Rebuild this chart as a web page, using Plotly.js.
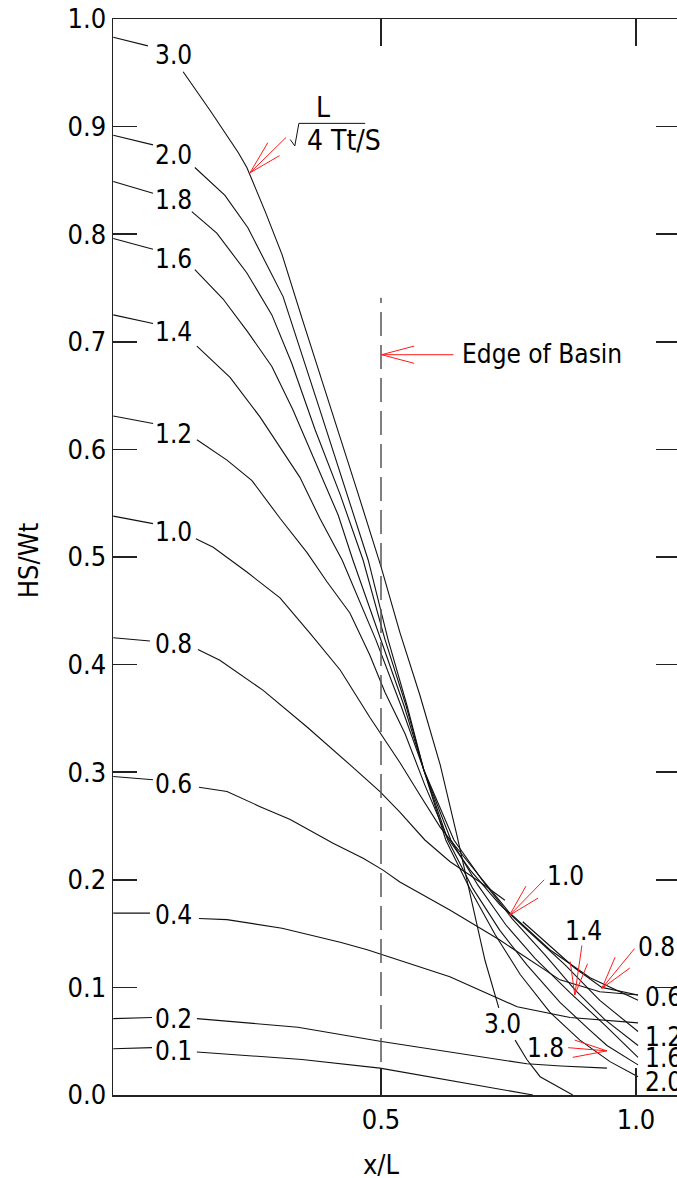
<!DOCTYPE html>
<html>
<head>
<meta charset="utf-8">
<script src="https://cdn.plot.ly/plotly-3.0.1.min.js"></script>
<style>
html,body{margin:0;padding:0;overflow:hidden;background:#fff;}
#chart{width:700px;height:1178px;}
</style>
</head>
<body>
<div id="chart"></div>
<script>
// ---- curve data: x/L and HS/Wt, null marks a break where the label sits ----
const c30x = [-0.025,0.043,null,0.112,0.165,0.220,0.237,0.273,0.306,0.345,0.400,0.451,0.500,0.537,0.576,0.616,0.649,0.678,0.704,0.731,null,0.763,0.786,0.812,0.876];
const c30y = [0.983,0.975,null,0.951,0.915,0.876,0.862,0.821,0.781,0.722,0.641,0.565,0.491,0.430,0.372,0.307,0.241,0.181,0.125,0.081,null,0.051,0.033,0.017,0.000];
const c20x = [-0.025,0.053,null,0.135,0.194,0.239,0.273,0.308,0.380,0.439,0.475,0.514,0.551,0.584,0.627,0.675,0.724,0.773,0.831,0.890,0.949,1.004];
const c20y = [0.892,0.883,null,0.862,0.836,0.806,0.774,0.742,0.637,0.550,0.497,0.423,0.362,0.302,0.237,0.191,0.149,0.112,0.077,0.051,0.031,0.017];
const c18x = [-0.025,0.053,null,0.129,0.178,0.237,0.286,0.325,0.371,0.420,0.465,0.508,0.549,0.584,0.631,0.680,0.733,0.786,0.851,0.910,0.943,1.004];
const c18y = [0.849,0.838,null,0.821,0.801,0.764,0.725,0.680,0.618,0.558,0.497,0.423,0.362,0.302,0.237,0.192,0.153,0.121,0.086,0.060,0.046,0.028];
const c16x = [-0.025,0.053,null,0.135,0.190,0.239,0.286,0.327,0.371,0.416,0.445,0.500,0.545,0.584,0.637,0.690,0.745,0.802,0.871,0.939,1.004];
const c16y = [0.796,0.786,null,0.767,0.740,0.709,0.677,0.637,0.588,0.539,0.497,0.423,0.362,0.302,0.237,0.195,0.158,0.127,0.095,0.065,0.035];
const c14x = [-0.025,0.053,null,0.139,0.204,0.263,0.302,0.341,0.380,0.424,0.490,0.539,0.584,0.643,0.698,0.757,0.822,0.880,0.939,1.004];
const c14y = [0.725,0.717,null,0.696,0.667,0.630,0.602,0.574,0.536,0.497,0.423,0.362,0.302,0.237,0.200,0.164,0.130,0.098,0.070,0.046];
const c12x = [-0.025,0.053,null,0.139,0.198,0.247,0.302,0.355,0.394,0.439,0.478,0.508,0.547,0.586,0.629,0.675,0.733,0.792,0.861,0.929,1.004];
const c12y = [0.631,0.624,null,0.609,0.590,0.571,0.536,0.504,0.477,0.448,0.409,0.374,0.336,0.288,0.240,0.209,0.177,0.151,0.121,0.088,0.059];
const c10x = [-0.025,0.053,null,0.137,0.171,0.237,0.302,0.361,0.420,0.478,0.537,0.576,0.616,0.675,0.751,0.831,0.910,1.004];
const c10y = [0.538,0.531,null,0.517,0.509,0.486,0.462,0.429,0.395,0.351,0.309,0.279,0.249,0.214,0.170,0.135,0.109,0.088];
const c08x = [-0.025,0.047,null,0.141,0.184,0.269,0.355,0.439,0.498,0.537,0.586,0.635,0.694,0.743,null,0.778,0.831,0.880,0.933,1.004];
const c08y = [0.425,0.422,null,0.414,0.404,0.376,0.342,0.307,0.282,0.263,0.237,0.217,0.198,0.181,null,0.161,0.139,0.118,0.100,0.093];
const c06x = [-0.025,0.053,null,0.143,0.198,0.263,0.322,0.406,0.465,0.504,0.537,0.635,0.733,0.851,0.929,1.004];
const c06y = [0.296,0.293,null,0.286,0.282,0.268,0.256,0.234,0.220,0.209,0.198,0.172,0.144,0.107,0.096,0.093];
const c04x = [-0.025,0.047,null,0.143,0.198,0.306,0.420,0.473,0.635,0.767,0.871,1.004];
const c04y = [0.169,0.169,null,0.164,0.163,0.155,0.142,0.135,0.110,0.082,0.072,0.067];
const c02x = [-0.025,0.051,null,0.139,0.337,0.498,0.786,0.853,0.943];
const c02y = [0.071,0.072,null,0.071,0.063,0.050,0.029,0.027,0.025];
const c01x = [-0.025,0.051,null,0.139,0.345,0.498,0.798];
const c01y = [0.043,0.044,null,0.040,0.033,0.025,0.000];

// ---- curve labels (parameter L / sqrt(4Tt/S)) ----
const labelText = ['3.0','2.0','1.8','1.6','1.4','1.2','1.0','0.8','0.6','0.4','0.2','0.1'];
const labelX    = [0.093,0.093,0.093,0.093,0.094,0.094,0.094,0.094,0.094,0.094,0.093,0.093];
const labelY    = [0.967,0.874,0.832,0.777,0.709,0.614,0.523,0.419,0.289,0.167,0.071,0.041];

// labels at the right-hand end of the curves (left anchored)
const endText = ['0.6','1.2','1.6','2.0'];
const endX    = [1.014,1.014,1.014,1.014];
const endY    = [0.091,0.054,0.034,0.012];

// labels with red pointer arrows in lower right
const ptrText = ['1.0','1.4','0.8','3.0','1.8'];
const ptrX    = [0.861,0.897,1.040,0.739,0.823];
const ptrY    = [0.204,0.152,0.138,0.066,0.044];

// red arrows: tip, tail, and two wing ends
const arrTipX  = [0.243,0.501,0.752,0.880,0.933,0.943];
const arrTipY  = [0.857,0.688,0.167,0.093,0.099,0.041];
const arrTailX = [0.314,0.642,0.820,0.894,0.997,0.867];
const arrTailY = [0.890,0.688,0.200,0.139,0.136,0.044];
const arrW1X   = [0.278,0.565,0.784,0.871,0.959,0.880];
const arrW1Y   = [0.885,0.696,0.194,0.124,0.128,0.051];
const arrW2X   = [0.301,0.565,0.808,0.905,0.988,0.876];
const arrW2Y   = [0.873,0.680,0.183,0.122,0.118,0.035];

// radical sign of the parameter legend
const radX = [0.322,0.331,0.339,0.469];
const radY = [0.888,0.882,0.903,0.903];

// edge of basin
const basinEdgeX = [0.5,0.5];
const basinEdgeY = [0.0,0.741];

const yTicks = [0,0.1,0.2,0.3,0.4,0.5,0.6,0.7,0.8,0.9,1.0];
const xTicks = [0.5,1.0];
const xTickText = ['0.5','1.0'];

const FONT = 'DejaVu Sans Condensed, Liberation Sans, Arial, sans-serif';
const curveStyle = {color:'#111', width:1.1};

const curves = [[c30x,c30y],[c20x,c20y],[c18x,c18y],[c16x,c16y],[c14x,c14y],[c12x,c12y],
                [c10x,c10y],[c08x,c08y],[c06x,c06y],[c04x,c04y],[c02x,c02y],[c01x,c01y]];
const traces = curves.map(c => ({x:c[0], y:c[1], mode:'lines', type:'scatter',
  line:curveStyle, connectgaps:false, hoverinfo:'skip', showlegend:false}));

traces.push({x:basinEdgeX, y:basinEdgeY, mode:'lines', type:'scatter',
  line:{color:'#555', width:1.5, dash:'24px,9px'}, hoverinfo:'skip', showlegend:false});

// arrows
const ax = [], ay = [];
for (let i = 0; i < arrTipX.length; i++) {
  ax.push(arrTailX[i], arrTipX[i], null, arrW1X[i], arrTipX[i], arrW2X[i], null);
  ay.push(arrTailY[i], arrTipY[i], null, arrW1Y[i], arrTipY[i], arrW2Y[i], null);
}
traces.push({x:ax, y:ay, mode:'lines', type:'scatter', line:{color:'#ff1a1a', width:1},
  connectgaps:false, hoverinfo:'skip', showlegend:false});
traces.push({x:radX, y:radY, mode:'lines', type:'scatter', line:{color:'#111', width:1},
  hoverinfo:'skip', showlegend:false});

const ann = [];
const tf = {family:FONT, size:26, color:'#000'};
const tfBig = {family:FONT, size:28, color:'#000'};
labelText.forEach((t,i)=>ann.push({x:labelX[i], y:labelY[i], text:t, showarrow:false,
  xanchor:'center', yanchor:'middle', font:tf}));
endText.forEach((t,i)=>ann.push({x:endX[i], y:endY[i], text:t, showarrow:false,
  xanchor:'left', yanchor:'middle', font:tf}));
ptrText.forEach((t,i)=>ann.push({x:ptrX[i], y:ptrY[i], text:t, showarrow:false,
  xanchor:'center', yanchor:'middle', font:tf}));
ann.push({x:0.386, y:0.918, text:'L', showarrow:false, xanchor:'center', yanchor:'middle', font:tfBig});
ann.push({x:0.350, y:0.887, text:'4 Tt/S', showarrow:false, xanchor:'left', yanchor:'middle', font:tfBig});
ann.push({x:0.655, y:0.689, text:'Edge of Basin', showarrow:false, xanchor:'left', yanchor:'middle', font:tf});
// axis titles
ann.push({x:0.5, xref:'x', y:-0.065, yref:'paper', text:'x/L', showarrow:false,
  xanchor:'center', yanchor:'middle', font:{family:FONT, size:27, color:'#000'}});
ann.push({x:-0.150, xref:'paper', y:0.497, yref:'paper', text:'HS/Wt', textangle:-90, showarrow:false,
  xanchor:'center', yanchor:'middle', font:{family:FONT, size:27, color:'#000'}});

const layout = {
  width:700, height:1178,
  margin:{l:113, r:20, t:19, b:83},
  paper_bgcolor:'#fff', plot_bgcolor:'#fff',
  font:{family:FONT, size:26, color:'#000'},
  showlegend:false,
  xaxis:{range:[-0.0255,1.0863], tickvals:xTicks, ticktext:xTickText, ticks:'inside', ticklen:27,
    tickcolor:'#222', tickwidth:1.5, mirror:'ticks', showline:true, linecolor:'#222', linewidth:1.5,
    showgrid:false, zeroline:false, tickfont:{family:FONT, size:27}},
  yaxis:{range:[0,1], tickvals:yTicks, tickformat:'.1f', ticks:'inside', ticklen:24,
    tickcolor:'#222', tickwidth:1.5, mirror:'ticks', showline:true, linecolor:'#222', linewidth:1.5,
    showgrid:false, zeroline:false, tickfont:{family:FONT, size:27}},
  annotations:ann
};
Plotly.newPlot('chart', traces, layout, {displayModeBar:false, staticPlot:true});
</script>
</body>
</html>
